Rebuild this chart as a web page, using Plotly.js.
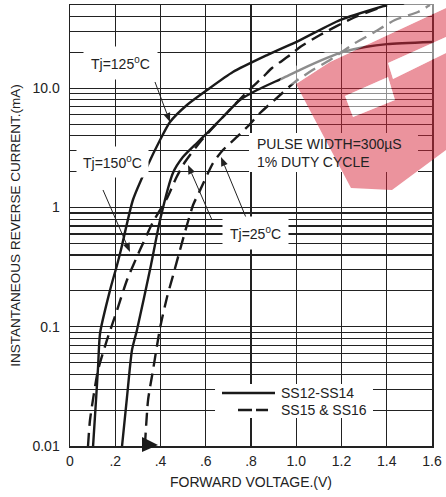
<!DOCTYPE html>
<html><head><meta charset="utf-8">
<script src="https://cdn.plot.ly/plotly-3.0.1.min.js"></script>
<style>html,body{margin:0;padding:0;background:#fff}#chart{width:446px;height:497px}</style>
</head><body><div id="chart"></div>
<script>
// ---- data ----
// SS12-SS14 (solid) curve A (leftmost solid)
const solidA_v = [0.102, 0.115, 0.124, 0.133, 0.177, 0.208, 0.225, 0.278, 0.340, 0.398, 0.442, 0.517, 0.606, 0.720, 0.871, 1.017, 1.193, 1.401];
const solidA_i = [0.0100, 0.0243, 0.0460, 0.0887, 0.203, 0.330, 0.440, 1.157, 2.19, 3.69, 5.22, 7.25, 9.68, 13.7, 19.0, 25.4, 37.4, 50];
// SS12-SS14 (solid) curve B
const solidB_v = [0.230, 0.252, 0.274, 0.296, 0.358, 0.398, 0.455, 0.499, 0.561, 0.606, 0.676, 0.751, 0.827, 0.941, 1.017, 1.136, 1.207, 1.304, 1.401, 1.600];
const solidB_i = [0.0100, 0.0258, 0.0638, 0.0940, 0.330, 0.787, 1.948, 2.65, 3.48, 4.22, 5.75, 7.98, 9.68, 12.2, 14.3, 18.0, 20.2, 22.2, 23.5, 24.5];
// SS15 & SS16 (dashed) curve A
const dashA_v = [0.0796, 0.0884, 0.124, 0.1635, 0.208, 0.252, 0.309, 0.367, 0.429, 0.469, 0.508, 0.575, 0.676, 0.782, 0.853, 0.893, 0.972, 1.017, 1.105, 1.251, 1.401];
const dashA_i = [0.0100, 0.01652, 0.0434, 0.0775, 0.138, 0.247, 0.440, 0.757, 1.20, 1.77, 2.41, 3.55, 5.75, 9.31, 12.45, 14.8, 19.0, 22.2, 28.0, 38.9, 50];
// SS15 & SS16 (dashed) curve B
const dashB_v = [0.331, 0.345, 0.367, 0.398, 0.429, 0.455, 0.486, 0.517, 0.544, 0.575, 0.632, 0.676, 0.738, 0.796, 0.840, 0.919, 0.994, 1.074, 1.149, 1.260, 1.339, 1.436, 1.538, 1.591];
const dashB_i = [0.0100, 0.0243, 0.0434, 0.0977, 0.178, 0.267, 0.440, 0.714, 1.05, 1.40, 2.36, 3.04, 3.91, 5.02, 6.21, 8.46, 11.3, 14.3, 17.3, 24.0, 29.1, 37.4, 43.7, 50];

const seriesNames = ["SS12-SS14", "SS15 & SS16"];

// ticks
const xTickVals = [0, 0.2, 0.4, 0.6, 0.8, 1.0, 1.2, 1.4, 1.6];
const xTickText = ["0", ".2", ".4", ".6", ".8", "1.0", "1.2", "1.4", "1.6"];
const yLabelVals = [0.01, 0.1, 1, 10, 50];
const yLabelText = ["0.01", "0.1", "1", "10.0", "50"];
const yMinorVals = [0.02,0.03,0.04,0.05,0.06,0.07,0.08,0.09,
                    0.2,0.3,0.4,0.5,0.6,0.7,0.8,0.9,
                    2,3,4,5,6,7,8,9,
                    20,30,40];

// ---- build ----
const INK = "#1a1a1a";
const solidLine = {color: INK, width: 2.4, shape: "spline", smoothing: 0.6};
const dashLine = {color: INK, width: 2.4, shape: "spline", smoothing: 0.6, dash: "13px,7px"};

const traces = [
  {x: solidA_v, y: solidA_i, mode: "lines", line: solidLine, name: seriesNames[0]},
  {x: dashA_v, y: dashA_i, mode: "lines", line: dashLine, name: seriesNames[1]},
  {x: solidB_v, y: solidB_i, mode: "lines", line: solidLine, name: seriesNames[0]},
  {x: dashB_v, y: dashB_i, mode: "lines", line: dashLine, name: seriesNames[1]}
];

// decoration helpers: pixel positions -> paper fractions (plot area 70..432 x 5..446)
const PX = X => +((X - 70) / 362).toFixed(4);
const PY = Y => +(1 - (Y - 5) / 441).toFixed(4);
function P(pts) {
  return "M" + pts.map(([X, Y]) => PX(X) + "," + PY(Y)).join("L") + "Z";
}
const PAPER = {xref: "paper", yref: "paper", layer: "above"};

const redOuter = [[296,84],[330,62],[446,8],[446,150],[392,190],[351,188]];
const hole1 = [[345,96],[388,77],[395,100],[353,117]].reverse();
const hole2 = [[388,63],[446,37],[446,53],[393,79]].reverse();
const lighten = [[283,72],[340,45],[390,15],[410,0],[446,0],[446,8],[330,62],[296,84],[278,86]];

// label arrows: [tailX, tailY, tipX, tipY] in pixels
const arrowList = [[155,82,170,122],[103,190,130,252],[212,220,188,165],[247,220,221,157]];

const FONT = "Liberation Sans, Arial, Helvetica, sans-serif";
const lg = Math.log10;

const shapes = [
  // white boxes behind texts (no curve crosses them)
  Object.assign({type: "rect", x0: PX(249), x1: PX(418), y0: PY(172), y1: PY(133),
   fillcolor: "#fff", line: {width: 0}}, PAPER),
  Object.assign({type: "rect", x0: PX(215), x1: PX(373), y0: PY(418), y1: PY(384),
   fillcolor: "#fff", line: {width: 0}}, PAPER),
  // legend samples
  Object.assign({type: "line", x0: PX(222), x1: PX(275), y0: PY(393), y1: PY(393),
   line: {color: INK, width: 2.4}}, PAPER),
  Object.assign({type: "line", x0: PX(238), x1: PX(268), y0: PY(410), y1: PY(410),
   line: {color: INK, width: 2.4, dash: "14px,4px"}}, PAPER)
];
arrowList.forEach(([tx, ty, hx, hy]) => {
  const dx = hx - tx, dy = hy - ty, L = Math.hypot(dx, dy), ux = dx / L, uy = dy / L;
  const bx = hx - ux * 9, by = hy - uy * 9;
  shapes.push(Object.assign({type: "line", x0: PX(tx), y0: PY(ty), x1: PX(bx), y1: PY(by),
    line: {color: "#222", width: 1}}, PAPER));
  shapes.push(Object.assign({type: "path",
    path: P([[hx, hy], [bx - uy * 3.5, by + ux * 3.5], [bx + uy * 3.5, by - ux * 3.5]]),
    fillcolor: "#222", line: {width: 0}}, PAPER));
});
shapes.push(
  // marker triangle at the bottom
  Object.assign({type: "path", path: P([[142,437],[158,445],[142,452]]),
   fillcolor: INK, line: {width: 0}}, PAPER),
  // watermark
  Object.assign({type: "path", path: P(redOuter) + P(hole1) + P(hole2),
   fillcolor: "rgba(215,40,60,0.5)", line: {width: 0}}, PAPER),
  Object.assign({type: "path", path: P(lighten) + P(hole1.slice().reverse()) + P(hole2.slice().reverse()),
   fillcolor: "rgba(255,255,255,0.5)", line: {width: 0}}, PAPER)
);

const txtFont = {family: FONT, size: 14, color: "#222"};
const annotations = [
  {x: 0.221, y: lg(16.3), text: "Tj=125<sup>0</sup>C", showarrow: false, bgcolor: "#fff", borderpad: 7, font: txtFont},
  {x: 0.186, y: lg(2.41), text: "Tj=150<sup>0</sup>C", showarrow: false, bgcolor: "#fff", borderpad: 6, font: txtFont},
  {x: 0.822, y: lg(0.612), text: "Tj=25<sup>0</sup>C", showarrow: false, bgcolor: "#fff", borderpad: 7, font: txtFont},
  {x: 0.818, y: lg(2.87), xanchor: "left", align: "left", text: "PULSE WIDTH=300µS<br>1% DUTY CYCLE", showarrow: false, font: txtFont},
  {xref: "paper", yref: "paper", x: PX(279), y: PY(393), xanchor: "left", yanchor: "middle", text: seriesNames[0], showarrow: false, font: txtFont},
  {xref: "paper", yref: "paper", x: PX(279), y: PY(410), xanchor: "left", yanchor: "middle", text: seriesNames[1], showarrow: false, font: txtFont}
];

const axisCommon = {
  showgrid: true, gridcolor: "#222", gridwidth: 1.1, zeroline: false,
  showline: true, mirror: true, linecolor: "#222", linewidth: 1.5,
  ticks: "", tickfont: {family: FONT, size: 14, color: "#222"}
};

const layout = {
  width: 446, height: 497,
  margin: {l: 70, r: 14, t: 5, b: 51},
  paper_bgcolor: "#fff", plot_bgcolor: "#fff",
  font: {family: FONT, color: "#222"},
  showlegend: false,
  xaxis: Object.assign({}, axisCommon, {
    range: [0, 1.6], tickmode: "array", tickvals: xTickVals, ticktext: xTickText,
    ticklabelstandoff: 2,
    title: {text: "FORWARD VOLTAGE.(V)", font: {family: FONT, size: 14, color: "#222"}, standoff: 9}
  }),
  yaxis: Object.assign({}, axisCommon, {
    type: "log", range: [-2, Math.log10(50)], tickmode: "array", tickvals: yLabelVals, ticktext: yLabelText,
    ticklabelstandoff: 6,
    minor: {tickmode: "array", tickvals: yMinorVals, showgrid: true, gridcolor: "#222", gridwidth: 1.1, ticks: ""},
    title: {text: "INSTANTANEOUS REVERSE CURRENT.(mA)", font: {family: FONT, size: 13.5, color: "#222"}, standoff: 8}
  }),
  shapes: shapes,
  annotations: annotations
};

Plotly.newPlot("chart", traces, layout, {staticPlot: true, displayModeBar: false});
</script>
</body></html>
